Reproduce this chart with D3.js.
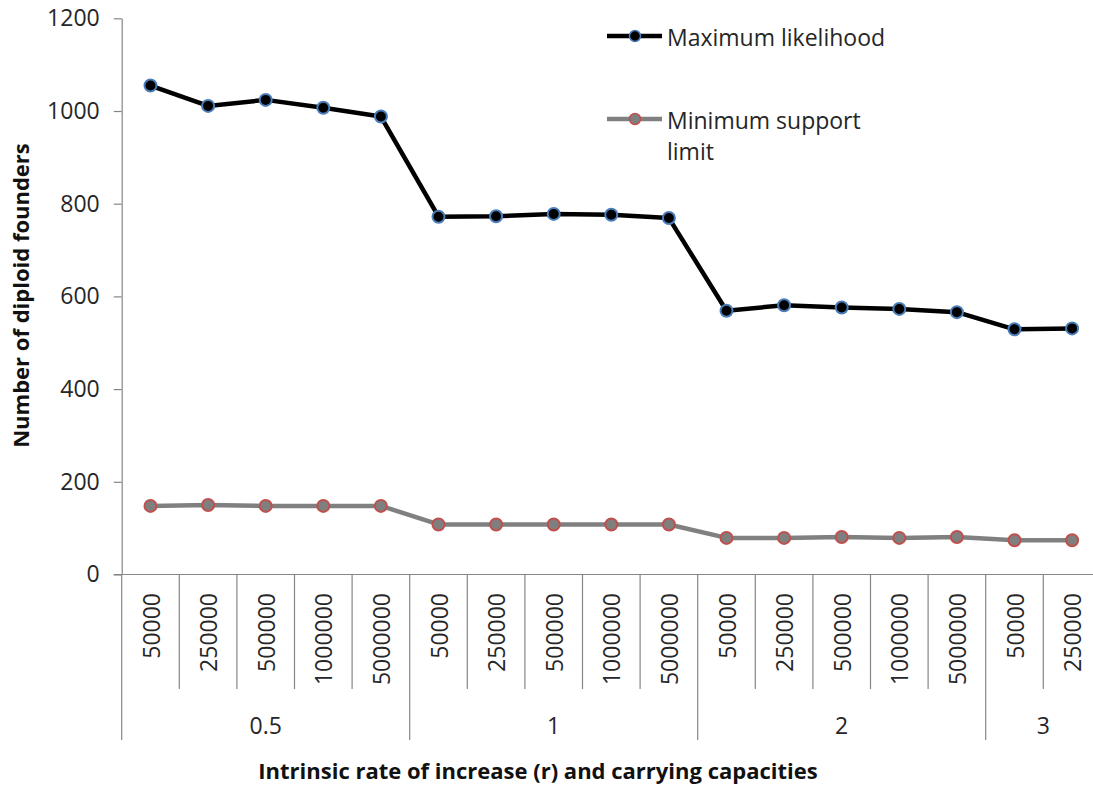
<!DOCTYPE html>
<html>
<head>
<meta charset="utf-8">
<script src="https://cdn.jsdelivr.net/npm/d3@7"></script>
<style>
  html, body { margin: 0; padding: 0; background: #fff; }
  svg { display: block; font-family: "Open Sans", "Noto Sans", sans-serif; }
</style>
</head>
<body>
<svg id="chart" width="1093" height="785"></svg>
<script>
// Intrinsic rate of increase (r) for each point
const rates = ["0.5","0.5","0.5","0.5","0.5","1","1","1","1","1","2","2","2","2","2","3","3"];
// Carrying capacity for each point
const capacities = ["50000","250000","500000","1000000","5000000",
                    "50000","250000","500000","1000000","5000000",
                    "50000","250000","500000","1000000","5000000",
                    "50000","250000"];
// Number of diploid founders
const maxLikelihood = [1055,1011,1024,1007,988, 772,773,778,776,769, 569,581,576,573,566, 529,531];
const minSupport    = [148,150,148,148,148, 108,108,108,108,108, 79,79,81,79,81, 74,74];
const yTicks = [0,200,400,600,800,1000,1200];
const seriesNames = ["Maximum likelihood", "Minimum support limit"];

const svg = d3.select("#chart");
const axisColor = "#868686";
const textColor = "#262626";

const plotLeft = 121.7, plotRight = 1100.9, plotTop = 18.3, plotBottom = 574.5;
const idx = d3.range(capacities.length);

const x = d3.scaleBand().domain(idx).range([plotLeft, plotRight]).padding(0);
const y = d3.scaleLinear().domain([0, 1200]).range([plotBottom, plotTop]);

// Y axis
const yAxis = svg.append("g").attr("transform", `translate(${plotLeft},0)`)
  .call(d3.axisLeft(y).tickValues(yTicks).tickFormat(d3.format("d"))
    .tickSize(8).tickPadding(14).tickSizeOuter(0));
yAxis.select(".domain").attr("stroke", axisColor).attr("stroke-width", 1.2);
yAxis.selectAll(".tick line").attr("stroke", axisColor).attr("stroke-width", 1.2);
yAxis.selectAll(".tick text").attr("fill", textColor).attr("font-size", 23)
  .attr("font-family", "'Open Sans', sans-serif");

// X axis baseline
svg.append("line").attr("x1", plotLeft - 8).attr("x2", plotRight)
  .attr("y1", plotBottom).attr("y2", plotBottom)
  .attr("stroke", axisColor).attr("stroke-width", 1.2);

// Separators between capacities inside a group, and between rate groups
const catBottom = 689, groupBottom = 740;
const bounds = d3.range(capacities.length + 1);
svg.append("g").selectAll("line").data(bounds).join("line")
  .attr("x1", i => i < capacities.length ? x(i) : plotRight)
  .attr("x2", i => i < capacities.length ? x(i) : plotRight)
  .attr("y1", plotBottom)
  .attr("y2", i => (i === 0 || i === capacities.length || rates[i] !== rates[i - 1]) ? groupBottom : catBottom)
  .attr("stroke", axisColor).attr("stroke-width", 1.2);

// Capacity labels (rotated)
svg.append("g").selectAll("text").data(idx).join("text")
  .attr("transform", i => `translate(${x(i) + x.bandwidth() / 2},593) rotate(-90)`)
  .attr("text-anchor", "end").attr("dominant-baseline", "central")
  .attr("font-size", 23).attr("fill", textColor)
  .text(i => capacities[i]);

// Rate group labels
const groups = [];
rates.forEach((r, i) => {
  if (!groups.length || groups[groups.length - 1].r !== r) groups.push({ r, start: i, end: i });
  else groups[groups.length - 1].end = i;
});
svg.append("g").selectAll("text").data(groups).join("text")
  .attr("x", g => (x(g.start) + x(g.end) + x.bandwidth()) / 2)
  .attr("y", 725).attr("text-anchor", "middle").attr("dominant-baseline", "central")
  .attr("font-size", 23).attr("fill", textColor)
  .text(g => g.r);

// Axis titles
svg.append("text")
  .attr("transform", `translate(20,295.5) rotate(-90)`)
  .attr("text-anchor", "middle").attr("dominant-baseline", "central")
  .attr("font-size", 22).attr("font-weight", "bold").attr("fill", "#111")
  .text("Number of diploid founders");
svg.append("text")
  .attr("x", 538).attr("y", 770)
  .attr("text-anchor", "middle").attr("dominant-baseline", "central")
  .attr("font-size", 22).attr("font-weight", "bold").attr("fill", "#111")
  .text("Intrinsic rate of increase (r) and carrying capacities");

// Series
const series = [
  { values: minSupport, line: "#808080", fill: "#7f7f7f", stroke: "#c0504d" },
  { values: maxLikelihood, line: "#000000", fill: "#000000", stroke: "#4a7ebb" }
];
const lineGen = d3.line().x(i => x(i) + x.bandwidth() / 2);

series.forEach(s => {
  svg.append("path")
    .attr("d", lineGen.y(i => y(s.values[i]))(idx))
    .attr("fill", "none").attr("stroke", s.line).attr("stroke-width", 4.5)
    .attr("stroke-linejoin", "round");
  svg.append("g").selectAll("circle").data(idx).join("circle")
    .attr("cx", i => x(i) + x.bandwidth() / 2)
    .attr("cy", i => y(s.values[i]))
    .attr("r", 6)
    .attr("fill", s.fill).attr("stroke", s.stroke).attr("stroke-width", 2);
});

// Legend
const legend = [
  { name: [seriesNames[0]], y: 36, line: "#000000", fill: "#000000", stroke: "#4a7ebb" },
  { name: ["Minimum support", "limit"], y: 119, line: "#808080", fill: "#7f7f7f", stroke: "#c0504d" }
];
legend.forEach(l => {
  svg.append("line").attr("x1", 607).attr("x2", 662).attr("y1", l.y).attr("y2", l.y)
    .attr("stroke", l.line).attr("stroke-width", 4.5);
  svg.append("circle").attr("cx", 635).attr("cy", l.y).attr("r", 5.5)
    .attr("fill", l.fill).attr("stroke", l.stroke).attr("stroke-width", 1.5);
  l.name.forEach((t, k) => {
    svg.append("text").attr("x", 667).attr("y", l.y + 1 + k * 31)
      .attr("dominant-baseline", "central")
      .attr("font-size", 23).attr("fill", textColor)
      .text(t);
  });
});
</script>
</body>
</html>
